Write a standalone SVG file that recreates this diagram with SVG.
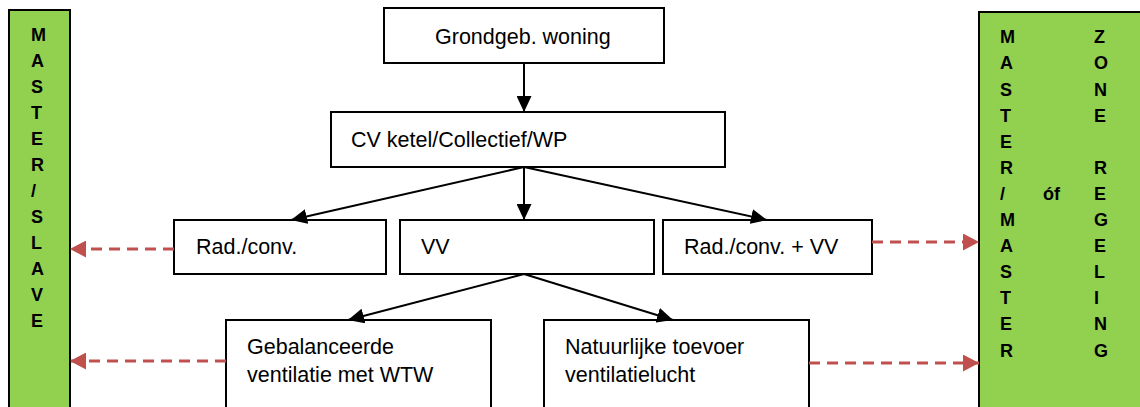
<svg xmlns="http://www.w3.org/2000/svg" width="1140" height="407" viewBox="0 0 1140 407">
<style>
.box{fill:#fff;stroke:#000;stroke-width:2}
.bar{fill:#92D050;stroke:#000;stroke-width:2}
.t{font-family:"Liberation Sans",Arial,sans-serif;font-size:21.5px;fill:#000}
.b{font-family:"Liberation Sans",Arial,sans-serif;font-size:18px;font-weight:bold;fill:#000}
.arr{stroke:#000;stroke-width:2;fill:none}
.dash{stroke:#C0504D;stroke-width:3;stroke-dasharray:11 7;fill:none}
</style>
<defs>
<marker id="ah" markerUnits="userSpaceOnUse" viewBox="0 0 16 15" markerWidth="16" markerHeight="15" refX="16" refY="7.5" orient="auto">
<path d="M0,0 L16,7.5 L0,15 z" fill="#000"/>
</marker>
<marker id="rh" markerUnits="userSpaceOnUse" viewBox="0 0 16 17" markerWidth="16" markerHeight="17" refX="16" refY="8.5" orient="auto">
<path d="M0,0 L16,8.5 L0,17 z" fill="#C0504D"/>
</marker>
</defs>
<g id="bar-left">
<rect class="bar" x="9" y="10" width="61" height="410"/>
<text class="b" x="31" y="40.7">M<tspan x="31" dy="26">A</tspan><tspan x="31" dy="26">S</tspan><tspan x="31" dy="26">T</tspan><tspan x="31" dy="26">E</tspan><tspan x="31" dy="26">R</tspan><tspan x="31" dy="26">/</tspan><tspan x="31" dy="26">S</tspan><tspan x="31" dy="26">L</tspan><tspan x="31" dy="26">A</tspan><tspan x="31" dy="26">V</tspan><tspan x="31" dy="26">E</tspan></text>
</g>
<g id="bar-right">
<rect class="bar" x="979" y="12" width="175" height="410"/>
<text class="b" x="1000" y="43.3">M<tspan x="1000" dy="26.1">A</tspan><tspan x="1000" dy="26.1">S</tspan><tspan x="1000" dy="26.1">T</tspan><tspan x="1000" dy="26.1">E</tspan><tspan x="1000" dy="26.1">R</tspan><tspan x="1000" dy="26.1">/</tspan><tspan x="1000" dy="26.1">M</tspan><tspan x="1000" dy="26.1">A</tspan><tspan x="1000" dy="26.1">S</tspan><tspan x="1000" dy="26.1">T</tspan><tspan x="1000" dy="26.1">E</tspan><tspan x="1000" dy="26.1">R</tspan></text>
<text class="b" x="1043" y="200">óf</text>
<text class="b" x="1094" y="43.3">Z<tspan x="1094" dy="26.1">O</tspan><tspan x="1094" dy="26.1">N</tspan><tspan x="1094" dy="26.1">E</tspan><tspan x="1094" dy="52.2">R</tspan><tspan x="1094" dy="26.1">E</tspan><tspan x="1094" dy="26.1">G</tspan><tspan x="1094" dy="26.1">E</tspan><tspan x="1094" dy="26.1">L</tspan><tspan x="1094" dy="26.1">I</tspan><tspan x="1094" dy="26.1">N</tspan><tspan x="1094" dy="26.1">G</tspan></text>
</g>
<g id="n-grondgeb">
<rect class="box" x="384" y="8" width="280" height="55"/>
<text class="t" x="435" y="43.5">Grondgeb. woning</text>
</g>
<g id="n-cv">
<rect class="box" x="331" y="112" width="394" height="55"/>
<text class="t" x="351" y="147">CV ketel/Collectief/WP</text>
</g>
<g id="n-rad">
<rect class="box" x="174" y="220" width="212" height="54"/>
<text class="t" x="196" y="253.5">Rad./conv.</text>
</g>
<g id="n-vv">
<rect class="box" x="400" y="220" width="254" height="54"/>
<text class="t" x="421" y="253.5">VV</text>
</g>
<g id="n-radvv">
<rect class="box" x="663" y="220" width="209" height="54"/>
<text class="t" x="684" y="253.5">Rad./conv. + VV</text>
</g>
<g id="n-geb">
<rect class="box" x="226" y="320" width="265" height="100"/>
<text class="t" x="247" y="354">Gebalanceerde</text>
<text class="t" x="247" y="382">ventilatie met WTW</text>
</g>
<g id="n-nat">
<rect class="box" x="544" y="320" width="265" height="100"/>
<text class="t" x="565" y="354">Natuurlijke toevoer</text>
<text class="t" x="565" y="382">ventilatielucht</text>
</g>
<g id="connectors">
<line class="arr" x1="524" y1="63" x2="524" y2="112" marker-end="url(#ah)"/>
<line class="arr" x1="524" y1="167" x2="524" y2="220" marker-end="url(#ah)"/>
<line class="arr" x1="524" y1="167" x2="291" y2="220" marker-end="url(#ah)"/>
<line class="arr" x1="524" y1="167" x2="767" y2="220" marker-end="url(#ah)"/>
<line class="arr" x1="524" y1="274" x2="348" y2="320" marker-end="url(#ah)"/>
<line class="arr" x1="524" y1="274" x2="673" y2="320" marker-end="url(#ah)"/>
<line class="dash" x1="174" y1="249" x2="70" y2="249" marker-end="url(#rh)"/>
<line class="dash" x1="226" y1="361" x2="70" y2="361" marker-end="url(#rh)"/>
<line class="dash" x1="872" y1="242" x2="979" y2="242" marker-end="url(#rh)"/>
<line class="dash" x1="809" y1="363" x2="979" y2="363" marker-end="url(#rh)"/>
</g>
</svg>
